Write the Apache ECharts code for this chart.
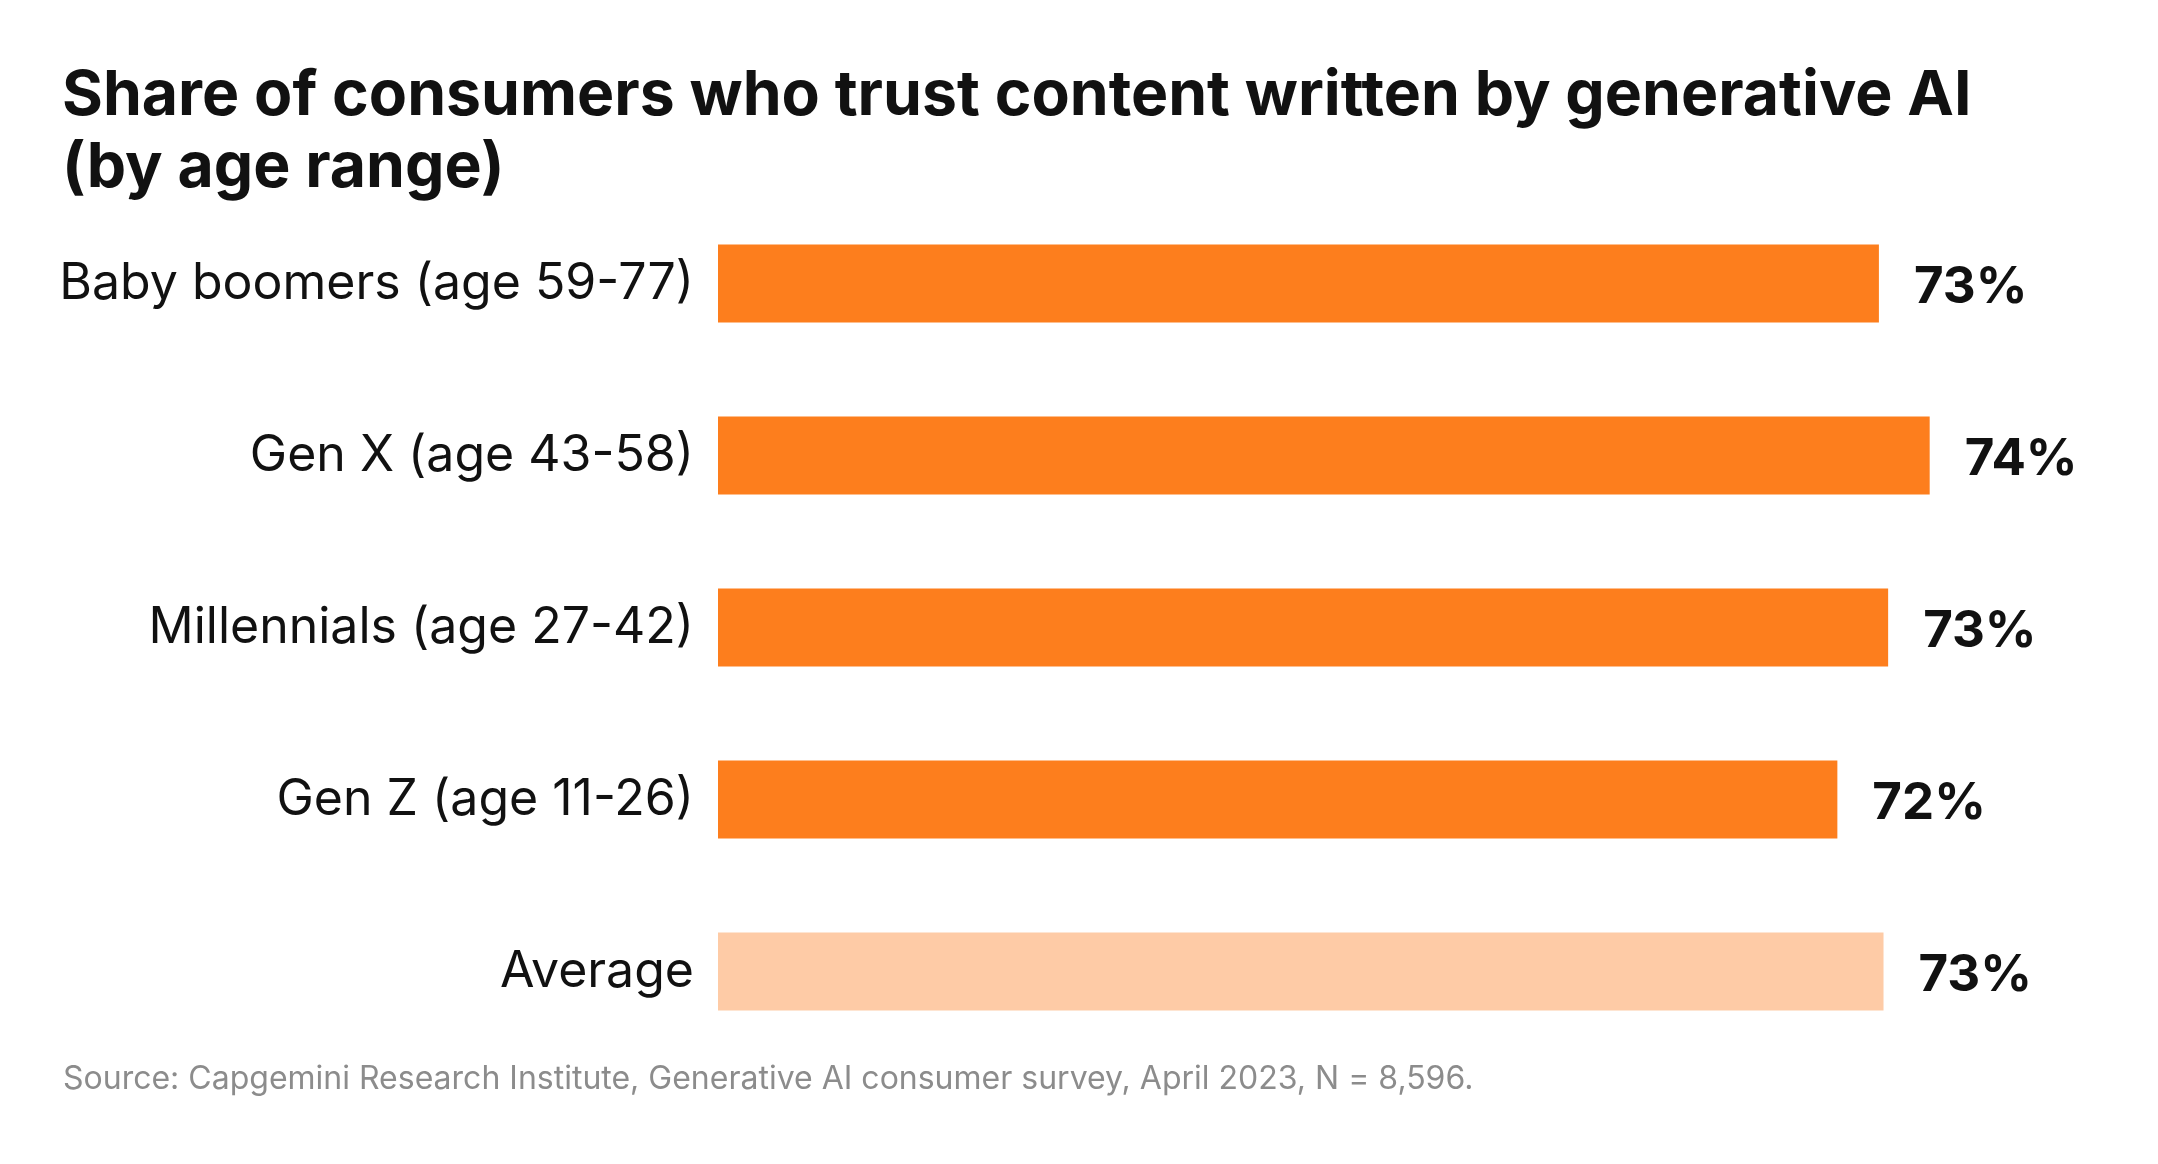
<!DOCTYPE html>
<html>
<head>
<meta charset="utf-8">
<title>Trust in generative AI content by age range</title>
<script src="https://cdn.jsdelivr.net/npm/echarts@6/dist/echarts.min.js"></script>
<style>
    html, body { margin: 0; padding: 0; background: #fff; }
    #chart { width: 2158px; height: 1164px; }
</style>
</head>
<body>
<div id="chart"></div>
<script>
// categories, top to bottom
var categories = [
    'Baby boomers (age 59-77)',
    'Gen X (age 43-58)',
    'Millennials (age 27-42)',
    'Gen Z (age 11-26)',
    'Average'
];
// share trusting AI-written content, % (labels show rounded values)
var trustShare = [72.9, 74.0, 73.1, 72.0, 73.0];
var barColors = ['#fd7e1d', '#fd7e1d', '#fd7e1d', '#fd7e1d', '#fecba6'];

var titleText = 'Share of consumers who trust content written by generative AI\n(by age range)';
var sourceText = 'Source: Capgemini Research Institute, Generative AI consumer survey, April 2023, N = 8,596.';

var chart = echarts.init(document.getElementById('chart'));

var option = {
    backgroundColor: '#ffffff',
    animation: false,
    title: [{
        text: titleText,
        left: 57,
        top: 55,
        textStyle: {
            fontFamily: 'Inter',
            fontSize: 62.5,
            fontWeight: 700,
            lineHeight: 72,
            color: '#111111'
        }
    }, {
        text: sourceText,
        left: 58,
        top: 1058,
        textStyle: {
            fontFamily: 'Inter',
            fontSize: 32,
            fontWeight: 400,
            lineHeight: 32,
            color: '#8c8c8c'
        }
    }],
    grid: {
        left: 718,
        right: 136,
        top: 197.5,
        bottom: 106.5,
        containLabel: false
    },
    xAxis: {
        type: 'value',
        min: 47.75,
        max: 76,
        show: false
    },
    yAxis: {
        type: 'category',
        data: categories,
        inverse: true,
        axisLine: { show: false },
        axisTick: { show: false },
        splitLine: { show: false },
        axisLabel: {
            margin: 24,
            fontFamily: 'Inter',
            fontSize: 50,
            color: '#111111',
            padding: [6, 0, 0, 0]
        }
    },
    series: [{
        type: 'bar',
        barWidth: 78,
        data: trustShare.map(function (v, i) {
            return { value: v, itemStyle: { color: barColors[i] } };
        }),
        label: {
            show: true,
            position: 'right',
            distance: 35,
            offset: [0, 4],
            fontFamily: 'Inter',
            fontSize: 51,
            fontWeight: 700,
            color: '#111111',
            formatter: function (p) {
                return Math.round(p.value) + '%';
            }
        }
    }]
};

chart.setOption(option);
</script>
</body>
</html>
